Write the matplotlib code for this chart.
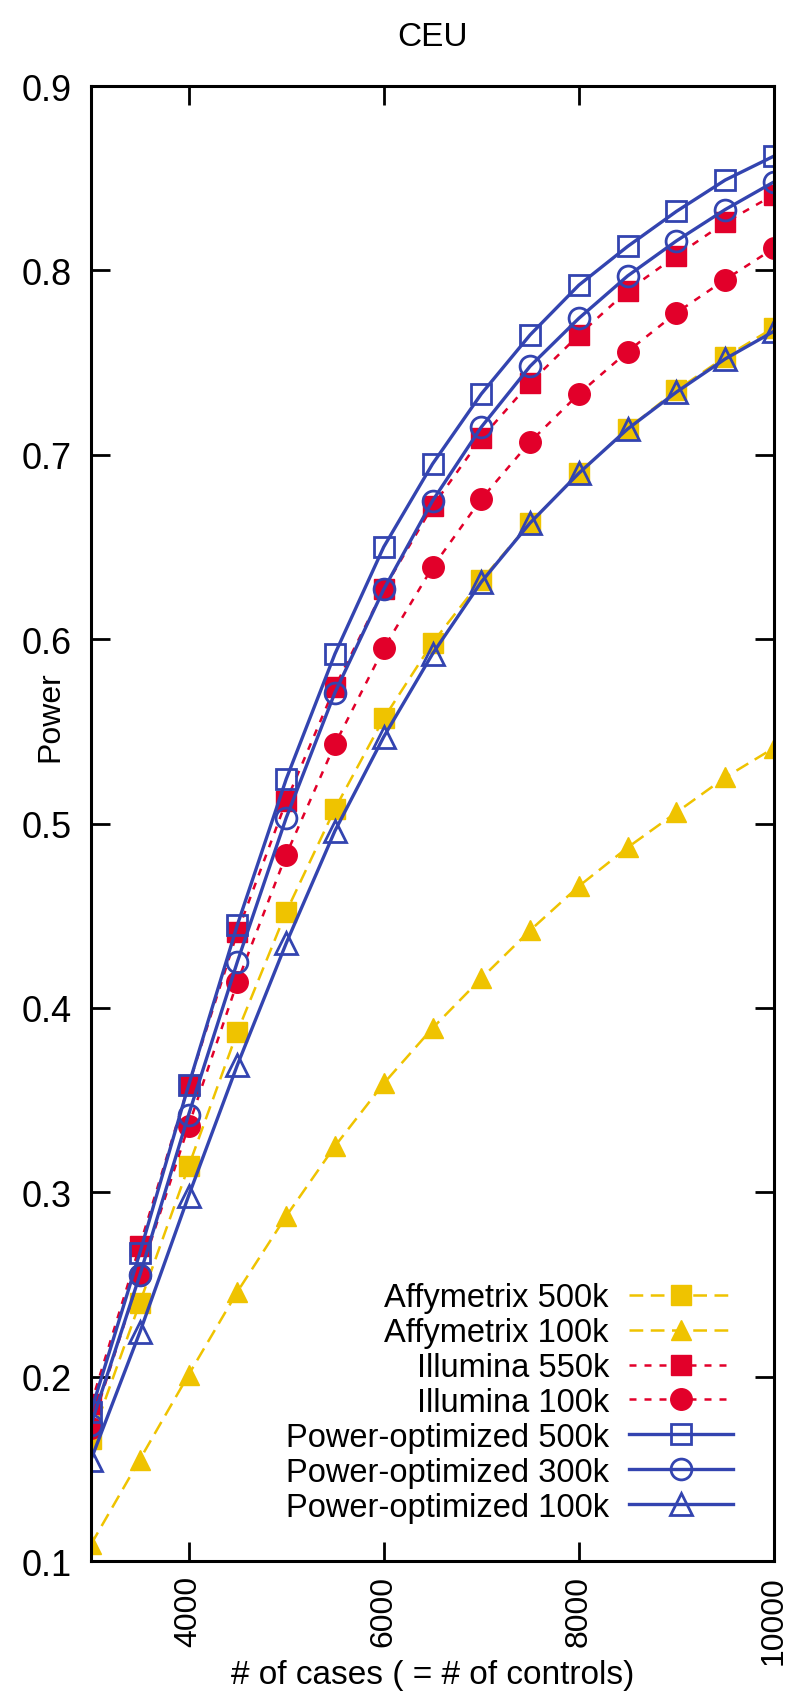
import numpy as np
import matplotlib
matplotlib.use("Agg")
import matplotlib.pyplot as plt

plt.rcParams['font.family'] = ['Liberation Sans', 'DejaVu Sans']

# sample sizes (# of cases = # of controls)
n_cases = [3000, 3500, 4000, 4500, 5000, 5500, 6000, 6500,
           7000, 7500, 8000, 8500, 9000, 9500, 10000]

affy_500k = [0.166, 0.240, 0.314, 0.387, 0.452, 0.508, 0.557, 0.598,
             0.632, 0.663, 0.690, 0.714, 0.735, 0.753, 0.769]
affy_100k = [0.109, 0.155, 0.201, 0.246, 0.287, 0.325, 0.359, 0.389,
             0.416, 0.442, 0.466, 0.487, 0.506, 0.525, 0.541]
illu_550k = [0.185, 0.271, 0.358, 0.441, 0.512, 0.574, 0.627, 0.672,
             0.709, 0.739, 0.765, 0.789, 0.808, 0.826, 0.841]
illu_100k = [0.172, 0.255, 0.336, 0.414, 0.483, 0.543, 0.595, 0.639,
             0.676, 0.707, 0.733, 0.756, 0.777, 0.795, 0.812]
po_500k = [0.181, 0.267, 0.358, 0.445, 0.524, 0.592, 0.650, 0.695,
           0.733, 0.765, 0.792, 0.813, 0.832, 0.849, 0.862]
po_300k = [0.174, 0.255, 0.342, 0.425, 0.503, 0.571, 0.627, 0.675,
           0.715, 0.748, 0.774, 0.797, 0.816, 0.833, 0.848]
po_100k = [0.155, 0.224, 0.298, 0.369, 0.435, 0.496, 0.547, 0.592,
           0.631, 0.663, 0.690, 0.714, 0.734, 0.752, 0.767]

x_ticks = [4000, 6000, 8000, 10000]
y_ticks = [0.1, 0.2, 0.3, 0.4, 0.5, 0.6, 0.7, 0.8, 0.9]

yellow = '#EFC300'
red = '#E2002A'
blue = '#3344B0'

fig = plt.figure(figsize=(8, 17.06), dpi=100)
ax = fig.add_axes([0.11375, 0.0844, 0.85375, 0.8646])

# dashed chip series
ax.plot(n_cases, affy_500k, color=yellow, lw=1.8, dashes=(5.5, 3),
        marker='s', ms=15, label='Affymetrix 500k')
ax.plot(n_cases, affy_100k, color=yellow, lw=1.8, dashes=(5.5, 3),
        marker='^', ms=15, label='Affymetrix 100k')
ax.plot(n_cases, illu_550k, color=red, lw=1.8, dashes=(2.8, 3.2),
        marker='s', ms=15, label='Illumina 550k')
ax.plot(n_cases, illu_100k, color=red, lw=1.8, dashes=(2.8, 3.2),
        marker='o', ms=15.5, label='Illumina 100k')

# power-optimized, open markers
ax.plot(n_cases, po_500k, color=blue, lw=2.4, marker='s', ms=15, mfc='none',
        mew=2, label='Power-optimized 500k')
ax.plot(n_cases, po_300k, color=blue, lw=2.4, marker='o', ms=15, mfc='none',
        mew=2, label='Power-optimized 300k')
ax.plot(n_cases, po_100k, color=blue, lw=2.4, marker='^', ms=16.5, mfc='none',
        mew=2, label='Power-optimized 100k')

ax.set_xlim(3000, 10000)
ax.set_ylim(0.1, 0.9)
ax.set_xticks(x_ticks)
ax.set_xticklabels([str(t) for t in x_ticks], rotation=90)
ax.set_yticks(y_ticks)
ax.set_yticklabels(['%.1f' % t for t in y_ticks])
ax.tick_params(direction='in', length=14, width=2, top=True, right=True)
ax.tick_params(axis='y', pad=14, labelsize=26)
ax.tick_params(axis='x', pad=10, labelsize=23)
for s in ax.spines.values():
    s.set_linewidth(2.2)

ax.set_xlabel('# of cases ( = # of controls)', fontsize=24)
ax.xaxis.set_label_coords(0.5, -0.077)
ax.xaxis.label.set_va('center')
ax.set_ylabel('Power', fontsize=23)
ax.yaxis.set_label_coords(-0.060, 0.573)
ax.yaxis.label.set_va('center')

fig.text(0.5406, 1 - 38 / 1706, 'CEU', ha='center', va='center', fontsize=24)

ax.legend(loc='lower right', bbox_to_anchor=(0.94, 0.026), frameon=False,
          markerfirst=False, fontsize=23.5, handlelength=3.2,
          handletextpad=0.6, labelspacing=0.12, borderpad=0,
          borderaxespad=0)

fig.savefig('out.png', dpi=100)
